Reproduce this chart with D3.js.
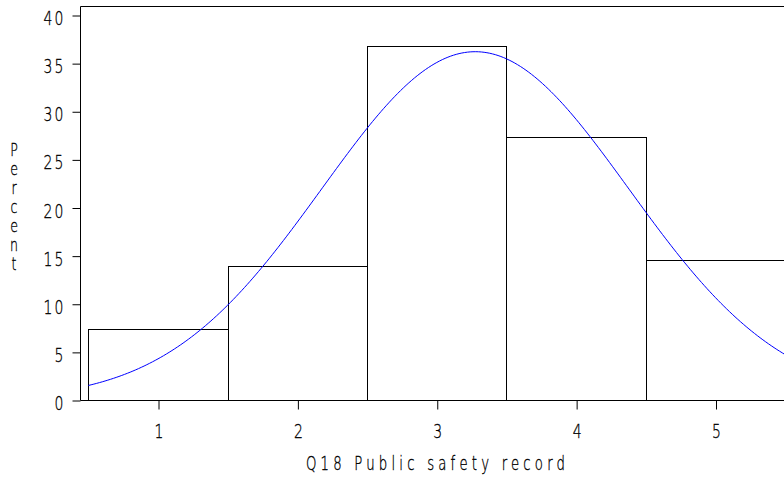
<!DOCTYPE html>
<html lang="en">

<head>
    <meta charset="UTF-8">
    <title>Q18 Public safety record</title>
    <style>
        body {
            margin: 0;
            padding: 0;
            background-color: white;
        }

        svg text {
            font-family: "DejaVu Sans", "Liberation Sans", sans-serif;
            font-weight: 200;
            fill: black;
            stroke: black;
            stroke-width: 0.35px;
        }

        .tick line {
            stroke: black;
        }
    </style>
</head>

<body>
    <div id="chart"></div>

    <script src="https://cdn.jsdelivr.net/npm/d3@7"></script>
    <script>

        // data
        const categories = [1, 2, 3, 4, 5];
        const percents = [7.4, 13.9, 36.8, 27.3, 14.5];
        const yTicks = [0, 5, 10, 15, 20, 25, 30, 35, 40];
        const xLabel = "Q18 Public safety record";
        const yLabel = "Percent";

        const w = 784;
        const h = 483;
        const squeeze = 0.7; // SAS font is tall and narrow

        const svg = d3.select("#chart")
            .append("svg")
            .attr("width", w)
            .attr("height", h);

        // scales (frame runs off the right edge like the original)
        const x = d3.scaleLinear().domain([1, 5]).range([158, 715.5]);
        const y = d3.scaleLinear().domain([0, 40]).range([400, 15]);
        const frameLeft = 80.5;
        const frameTop = 6.5;

        // bars
        svg.append("g")
            .selectAll("rect")
            .data(categories)
            .enter()
            .append("rect")
            .attr("x", (d) => Math.round(x(d - 0.5)) + 0.5)
            .attr("y", (d, i) => Math.round(y(percents[i])) + 0.5)
            .attr("width", (d) => Math.round(x(d + 0.5)) - Math.round(x(d - 0.5)))
            .attr("height", (d, i) => Math.round(y(0)) - Math.round(y(percents[i])))
            .attr("fill", "none")
            .attr("stroke", "black")
            .attr("stroke-width", 1);

        // fitted normal curve from the histogram itself
        const total = d3.sum(percents);
        const mean = d3.sum(categories, (d, i) => d * percents[i]) / total;
        const sd = Math.sqrt(d3.sum(categories, (d, i) => (d - mean) ** 2 * percents[i]) / total);
        const curveX = d3.range(0.5, 5.52, 0.02);

        const line = d3.line()
            .x((d) => x(d))
            .y((d) => y(total / (sd * Math.sqrt(2 * Math.PI)) * Math.exp(-0.5 * ((d - mean) / sd) ** 2)));

        svg.append("path")
            .datum(curveX)
            .attr("d", line)
            .attr("fill", "none")
            .attr("stroke", "#0000ff")
            .attr("stroke-width", 1);

        // frame
        svg.append("path")
            .attr("d", `M${w},${frameTop}H${frameLeft}V${Math.round(y(0)) + 0.5}H${w}`)
            .attr("fill", "none")
            .attr("stroke", "black")
            .attr("stroke-width", 1);

        // y axis
        const yAxis = svg.append("g")
            .attr("transform", `translate(${frameLeft}, 0.5)`)
            .call(d3.axisLeft(y).tickValues(yTicks).tickSize(8));
        yAxis.select(".domain").remove();
        yAxis.selectAll("text")
            .attr("x", 0)
            .attr("dy", "0.45em")
            .attr("transform", `translate(-15, 0) scale(${squeeze}, 1)`)
            .style("font-size", "20px")
            .style("letter-spacing", "3px");

        // x axis
        const xAxis = svg.append("g")
            .attr("transform", `translate(0.5, ${Math.round(y(0)) + 0.5})`)
            .call(d3.axisBottom(x).tickValues(categories).tickSize(9).tickPadding(14).tickFormat(d3.format("d")));
        xAxis.select(".domain").remove();
        xAxis.selectAll("text")
            .attr("transform", `scale(${squeeze}, 1)`)
            .style("font-size", "20px");

        // axis titles
        svg.append("text")
            .attr("transform", `translate(306, 470) scale(${squeeze}, 1)`)
            .attr("textLength", 259 / squeeze)
            .attr("lengthAdjust", "spacing")
            .style("font-size", "19px")
            .text(xLabel);

        svg.append("g")
            .selectAll("text")
            .data(yLabel.split(""))
            .enter()
            .append("text")
            .attr("transform", (d, i) => `translate(14, ${156 + i * 19}) scale(${squeeze}, 1)`)
            .attr("text-anchor", "middle")
            .style("font-size", "18px")
            .text((d) => d);

    </script>
</body>

</html>
